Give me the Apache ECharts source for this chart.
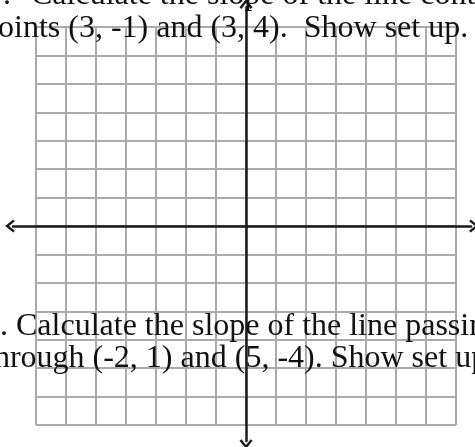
<!DOCTYPE html>
<html>
<head>
<meta charset="utf-8">
<script src="https://cdn.jsdelivr.net/npm/echarts@6/dist/echarts.min.js"></script>
<style>
html, body { margin: 0; padding: 0; background: #fff; }
#main { width: 475px; height: 447px; }
</style>
</head>
<body>
<div id="main"></div>
<script>
// 方格纸范围
const gridRange = [-7, 7];
const gridStep = 1;
// 带箭头的坐标轴（比方格纸长）
const axisXRange = [-7.77, 7.5];
const axisYRange = [-7.56, 7.7];
// 题目文字（图片边缘被截断）
const questionLines = [
  { text: '7.', x: -13, y: -4 },
  { text: 'Calculate the slope of the line containing the', x: 31, y: -4 },
  { text: 'points (3, -1) and (3, 4).  Show set up.', x: -18, y: 29 },
  { text: '8. Calculate the slope of the line passing', x: -16, y: 327 },
  { text: 'through (-2, 1) and (5, -4). Show set up.', x: -15, y: 359 },
];

const gridLine = { show: true, lineStyle: { color: '#aaaaaa', width: 2 } };
const arrow = 'path://M6,0L12,7.5L10.3,9L6,3.6L1.7,9L0,7.5Z';
const axisLine = {
  show: true,
  onZero: true,
  symbol: [arrow, arrow],
  symbolSize: [13, 10],
  symbolOffset: [-3, 3],
  lineStyle: { color: '#1a1a1a', width: 2.5 },
};
const hidden = { axisTick: { show: false }, axisLabel: { show: false } };

const option = {
  backgroundColor: '#fff',
  animation: false,
  grid: [
    { left: 36, right: 19, top: 27, bottom: 22 }, // 方格
    { left: 13, right: 4, top: 7, bottom: 6 }, // 坐标轴
  ],
  xAxis: [
    { gridIndex: 0, type: 'value', min: gridRange[0], max: gridRange[1], interval: gridStep,
      axisLine: { show: false }, splitLine: gridLine, ...hidden },
    { gridIndex: 1, type: 'value', min: axisXRange[0], max: axisXRange[1],
      axisLine, splitLine: { show: false }, ...hidden },
  ],
  yAxis: [
    { gridIndex: 0, type: 'value', min: gridRange[0], max: gridRange[1], interval: gridStep,
      axisLine: { show: false }, splitLine: gridLine, ...hidden },
    { gridIndex: 1, type: 'value', min: axisYRange[0], max: axisYRange[1],
      axisLine, splitLine: { show: false }, ...hidden },
  ],
  series: [],
  graphic: questionLines.map((l) => ({
    type: 'text',
    x: l.x,
    y: l.y,
    z: 100,
    silent: true,
    style: {
      text: l.text,
      font: '32px "Liberation Serif"',
      fill: '#111',
      verticalAlign: 'middle',
    },
  })),
};

const myChart = echarts.init(document.getElementById('main'));
myChart.setOption(option);
</script>
</body>
</html>
